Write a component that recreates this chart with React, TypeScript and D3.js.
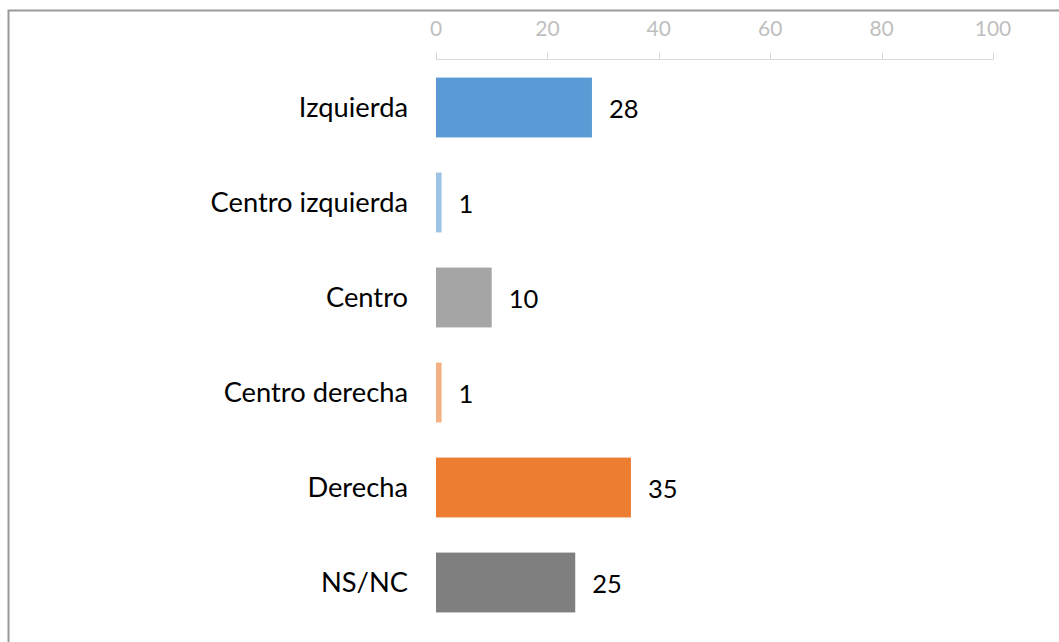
import React from "react";
import * as d3 from "d3";

const categories = ["Izquierda", "Centro izquierda", "Centro", "Centro derecha", "Derecha", "NS/NC"];
const values = [28, 1, 10, 1, 35, 25];
const colors = ["#5B9BD5", "#9DC3E6", "#A5A5A5", "#F4B183", "#ED7D31", "#7F7F7F"];
const ticks = [0, 20, 40, 60, 80, 100];

const W = 1059;
const H = 642;
const FONT = "Lato, 'Open Sans', sans-serif";

export default function App() {
  const x = d3.scaleLinear().domain([0, 100]).range([436, 993]);
  const y = d3.scaleBand<string>().domain(categories).range([60, 630]).paddingInner(0.37).paddingOuter(0.185);
  const axisY = 59.5;
  return (
    <svg width={W} height={H} style={{ position: "absolute", left: 0, top: 0 }}>
      <rect x={0} y={0} width={W} height={H} fill="#fff" />
      <path d={`M8.5,${H + 5} V10.5 H${W + 5}`} fill="none" stroke="#9a9a9a" strokeWidth={2} />
      <g>
        <line x1={x(0)} x2={x(100)} y1={axisY} y2={axisY} stroke="#d9d9d9" strokeWidth={1} />
        {ticks.map((t) => (
          <g key={t}>
            <line x1={Math.round(x(t)) + 0.5} x2={Math.round(x(t)) + 0.5} y1={axisY} y2={axisY - 7} stroke="#d9d9d9" />
            <text x={x(t)} y={36} textAnchor="middle" fontFamily={FONT} fontSize={21} fill="#bfbfbf">
              {t}
            </text>
          </g>
        ))}
      </g>
      {categories.map((c, i) => {
        const yc = (y(c) as number) + y.bandwidth() / 2;
        return (
          <g key={c}>
            <rect x={x(0)} y={y(c)} width={x(values[i]) - x(0)} height={y.bandwidth()} fill={colors[i]} />
            <text x={408} y={yc} dy="0.36em" textAnchor="end" fontFamily={FONT} fontSize={27.3} fill="#000">
              {c}
            </text>
            <text x={x(values[i]) + 17} y={yc + 1} dy="0.36em" textAnchor="start" fontFamily={FONT} fontSize={25.5} fill="#000">
              {values[i]}
            </text>
          </g>
        );
      })}
    </svg>
  );
}
